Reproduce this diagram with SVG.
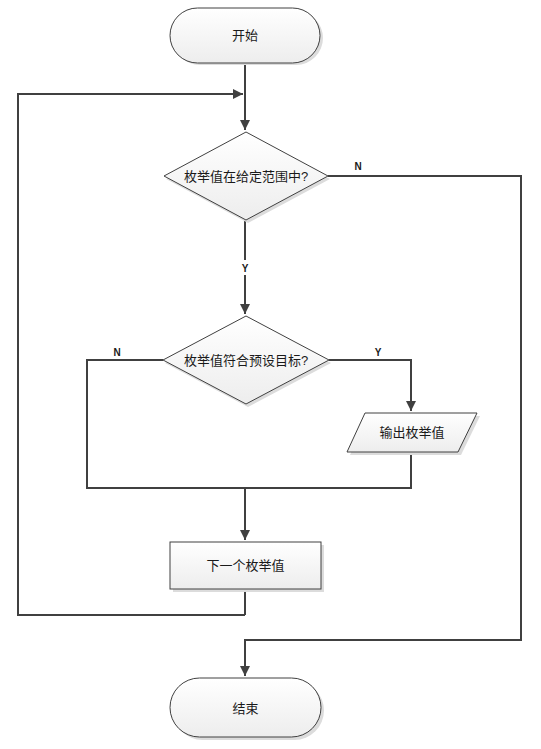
<svg xmlns="http://www.w3.org/2000/svg" width="541" height="749" viewBox="0 0 541 749">
<defs>
<linearGradient id="g" x1="0" y1="0" x2="0" y2="1">
<stop offset="0" stop-color="#ffffff"/>
<stop offset="1" stop-color="#ededed"/>
</linearGradient>
<marker id="ar" viewBox="0 0 10 10" refX="10" refY="5" markerWidth="5" markerHeight="5" orient="auto" markerUnits="strokeWidth">
<path d="M0,0 L10,5 L0,10 z" fill="#404040"/>
</marker>
</defs>
<style>
.shape{fill:url(#g);stroke:#404040;stroke-width:1}
.shadow{fill:#dcdcdc;stroke:none}
.t{font-family:"Liberation Sans","Noto Sans CJK SC",sans-serif;font-size:13px;fill:#1a1a1a;text-anchor:middle;dominant-baseline:central}
.lbl{font-family:"Liberation Sans",Arial,sans-serif;font-size:10px;font-weight:bold;fill:#1a1a1a;text-anchor:middle}
.c{fill:none;stroke:#404040;stroke-width:2}
</style>
<rect width="541" height="749" fill="#ffffff"/>
<g id="connectors">
<path class="c" d="M245,63 L245,130" marker-end="url(#ar)"/>
<path class="c" d="M245,615 L18,615 L18,94 L243,94" marker-end="url(#ar)"/>
<path class="c" d="M245,221 L245,314" marker-end="url(#ar)"/>
<path class="c" d="M328,176 L521,176 L521,640 L245,640 L245,676" marker-end="url(#ar)"/>
<path class="c" d="M329,360 L411,360 L411,411" marker-end="url(#ar)"/>
<path class="c" d="M163,360 L87,360 L87,488 L411,488 L411,452"/>
<path class="c" d="M245,488 L245,540" marker-end="url(#ar)"/>
<path class="c" d="M245,589 L245,615"/>
</g>
<g id="labels">
<text class="lbl" x="358" y="170">N</text>
<rect x="238" y="260" width="14" height="15" fill="#ffffff"/>
<text class="lbl" x="245" y="272">Y</text>
<text class="lbl" x="117" y="356">N</text>
<text class="lbl" x="378" y="356">Y</text>
</g>
<g id="start">
<rect class="shadow" x="173" y="11" width="150" height="54" rx="27"/>
<rect class="shape" x="170" y="8" width="150" height="55" rx="27.5"/>
<text class="t" x="245" y="35">开始</text>
</g>
<g id="decision1">
<polygon class="shadow" points="248,135 330,179 248,223 166,179"/>
<polygon class="shape" points="246,132 328,176 246,220 164,176"/>
<text class="t" x="246" y="176">枚举值在给定范围中?</text>
</g>
<g id="decision2">
<polygon class="shadow" points="248,319 331,363 248,407 165,363"/>
<polygon class="shape" points="246,316 329,360 246,404 163,360"/>
<text class="t" x="246" y="360">枚举值符合预设目标?</text>
</g>
<g id="output">
<polygon class="shadow" points="368,416 480,416 461,455 350,455"/>
<polygon class="shape" points="365,413 477,413 458,452 347,452"/>
<text class="t" x="412" y="432">输出枚举值</text>
</g>
<g id="next">
<rect class="shadow" x="173" y="545" width="151" height="47"/>
<rect class="shape" x="170" y="542" width="151" height="47"/>
<text class="t" x="245.5" y="565">下一个枚举值</text>
</g>
<g id="end">
<rect class="shadow" x="173" y="681" width="151" height="59" rx="29.5"/>
<rect class="shape" x="170" y="678" width="151" height="59" rx="29.5"/>
<text class="t" x="245.5" y="708">结束</text>
</g>
</svg>
